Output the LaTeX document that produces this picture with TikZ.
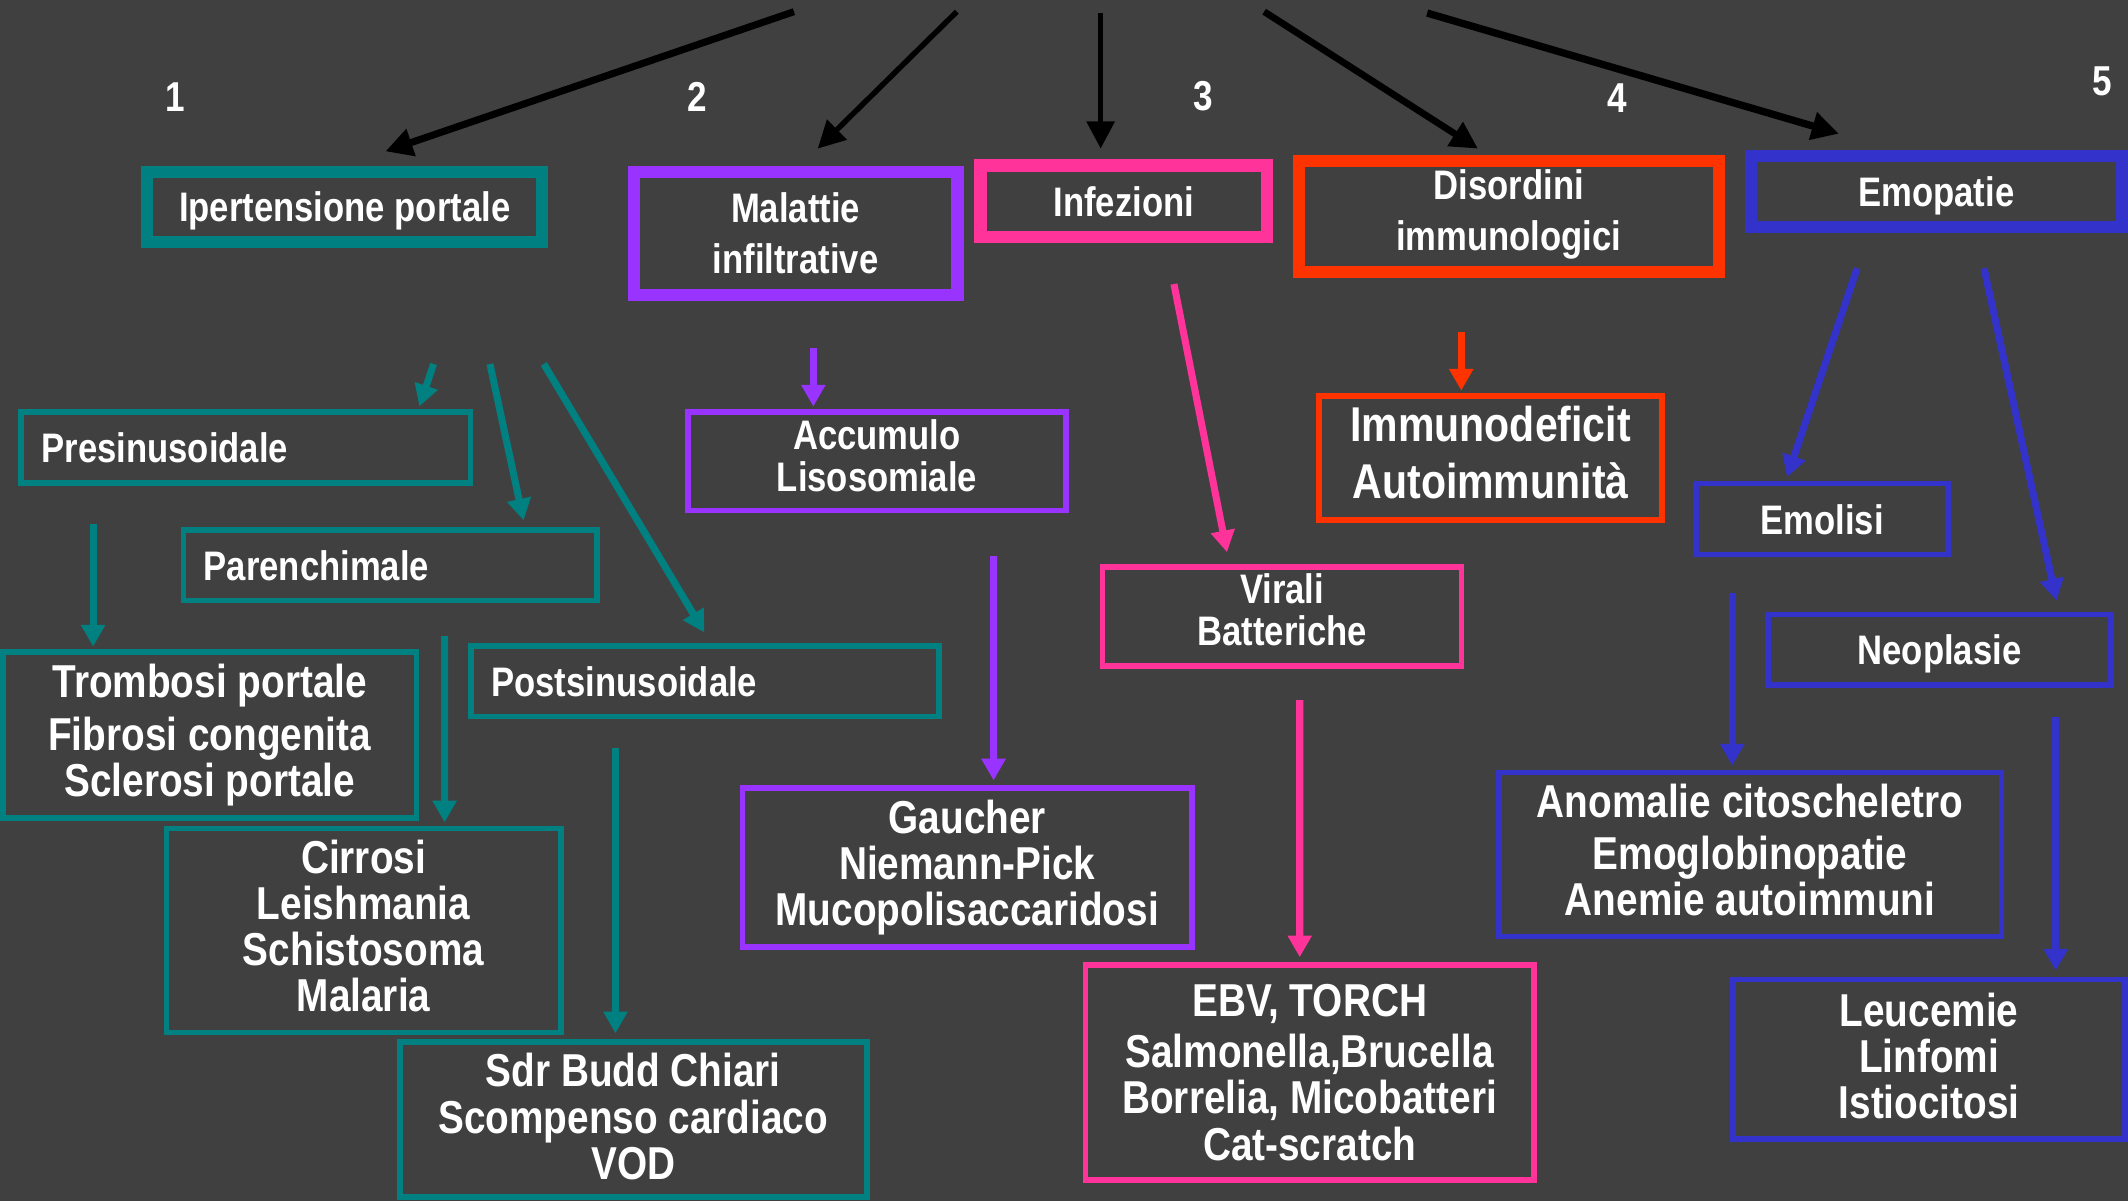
\documentclass[tikz,border=0pt]{standalone}
\usepackage{fontspec}
\setmainfont{Liberation Sans}[FakeStretch=0.84]
\usetikzlibrary{arrows.meta}
\definecolor{bgc}{RGB}{64,64,64}
\definecolor{cteal}{RGB}{0,128,128}
\definecolor{cpurp}{RGB}{153,51,255}
\definecolor{cpink}{RGB}{255,51,153}
\definecolor{cred}{RGB}{255,51,0}
\definecolor{cblue}{RGB}{51,51,204}
\newcommand{\lowstrut}[1]{\rule[-#1]{0pt}{#1}}
\begin{document}
\begin{tikzpicture}[x=0.5pt,y=-0.5pt,
  box/.style={draw, rectangle, inner sep=0pt, text=white, align=center,
    font={\bfseries\fontsize{17}{17}\selectfont}},
  topbox/.style={box, line width=4.5pt, font={\bfseries\fontsize{15.2}{18.6}\selectfont}},
  thinbox/.style={box, line width=2.1pt},
  smallbox/.style={thinbox, font={\bfseries\fontsize{15.2}{15.4}\selectfont}},
  leftbox/.style={smallbox, align=left, inner xsep=7.5pt},
  oneline/.style={text depth=0pt},
  num/.style={text=white, inner sep=0pt, font={\bfseries\fontsize{15.4}{15.4}\selectfont}},
  arr/.style={line width=2.6pt, -{Triangle[length=8pt,width=8.5pt]}},
  blk/.style={draw=black, line width=#1, -{Triangle[length=10pt,width=10pt]}}
]
\useasboundingbox (0,0) rectangle (1568,885);
\fill[bgc] (0,0) rectangle (1568,885);

% numbers
\node[num] (n1) at (129,71.2) {1};
\node[num] (n2) at (514,71.2) {2};
\node[num] (n3) at (886.5,71) {3};
\node[num] (n4) at (1191.5,72) {4};
\node[num] (n5) at (1549,60) {5};

% top boxes
\node[topbox, oneline, draw=cteal, minimum width=145.5pt, minimum height=26pt] (ip) at (254,152.5) {Ipertensione portale};
\node[topbox, draw=cpurp, minimum width=119.25pt, minimum height=45.3pt] (ma) at (586.25,171.8) {Malattie\\infiltrative};
\node[topbox, oneline, draw=cpink, minimum width=105.5pt, minimum height=26.25pt] (inf) at (828,148.25) {Infezioni};
\node[topbox, draw=cred, minimum width=154.7pt, minimum height=41pt] (dis) at (1111.7,159.5) {Disordini\\immunologici\lowstrut{4.7pt}};
\node[topbox, oneline, draw=cblue, minimum width=136.75pt, minimum height=26pt] (emo) at (1426.75,141) {Emopatie};

% teal
\node[leftbox, oneline, draw=cteal, text width=150.5pt, minimum height=26.1pt] (pre) at (181.1,329.8) {Presinusoidale};
\node[leftbox, oneline, draw=cteal, text width=137.4pt, minimum height=25.9pt] (par) at (287.5,416.6) {Parenchimale};
\node[leftbox, oneline, draw=cteal, text width=157.4pt, minimum height=25.9pt] (post) at (519.5,502) {Postsinusoidale};
\node[thinbox, draw=cteal, minimum width=152.4pt, minimum height=61.05pt] (tro) at (154.5,541.6) {Trombosi portale\\[2.4pt]Fibrosi congenita\\Sclerosi portale};
\node[thinbox, draw=cteal, minimum width=145.25pt, minimum height=75.15pt] (cir) at (267.9,685.7) {Cirrosi\\Leishmania\\Schistosoma\\Malaria\lowstrut{3.7pt}};
\node[thinbox, draw=cteal, minimum width=172.1pt, minimum height=57.1pt] (sdr) at (466.6,825.1) {Sdr Budd Chiari\\Scompenso cardiaco\\VOD\lowstrut{2.5pt}};

% purple
\node[smallbox, draw=cpurp, minimum width=139.05pt, minimum height=36.25pt] (acc) at (646.2,340) {Accumulo\\Lisosomiale\lowstrut{4.5pt}};
\node[thinbox, draw=cpurp, minimum width=165.65pt, minimum height=58.65pt] (gau) at (712.7,639.3) {Gaucher\\Niemann-Pick\\Mucopolisaccaridosi};

% pink
\node[smallbox, draw=cpink, minimum width=132.25pt, minimum height=36.35pt] (vir) at (944.7,454.35) {Virali\\Batteriche\lowstrut{5pt}};
\node[thinbox, draw=cpink, minimum width=165.25pt, minimum height=79.3pt] (ebv) at (965,790.1) {EBV, TORCH\\[2pt]Salmonella,Brucella\\Borrelia, Micobatteri\\Cat-scratch};

% red
\node[thinbox, draw=cred, minimum width=126.2pt, minimum height=45.45pt, font={\bfseries\fontsize{18}{20.85}\selectfont}] (imm) at (1098.3,337.45) {Immunodeficit\\Autoimmunità\lowstrut{4pt}};

% blue
\node[smallbox, oneline, draw=cblue, minimum width=92.8pt, minimum height=26.15pt] (emol) at (1342.7,382.45) {Emolisi};
\node[smallbox, oneline, draw=cblue, minimum width=126.3pt, minimum height=25.9pt] (neo) at (1429.1,478.7) {Neoplasie};
\node[thinbox, draw=cblue, minimum width=185.2pt, minimum height=60.5pt] (ano) at (1289.5,629.6) {Anomalie citoscheletro\\[2pt]Emoglobinopatie\\Anemie autoimmuni\lowstrut{3.4pt}};
\node[thinbox, draw=cblue, minimum width=144.45pt, minimum height=58.7pt] (leu) at (1421.45,780.5) {Leucemie\\Linfomi\\Istiocitosi\lowstrut{2.7pt}};

% start coordinates
\coordinate (b1) at (585,8.6);
\coordinate (b2) at (705,8.6);
\coordinate (b3) at (811,9.3);
\coordinate (b4) at (931.5,8.6);
\coordinate (b5) at (1051.6,9.6);
\coordinate (t1) at (319.5,268.2);
\coordinate (t2) at (361,268.2);
\coordinate (t3) at (400.7,268.2);
\coordinate (t4) at (68.6,386.4);
\coordinate (t5) at (327.6,468.7);
\coordinate (t6) at (453.5,551.4);
\coordinate (p1) at (599.3,256.7);
\coordinate (p2) at (732.1,409.7);
\coordinate (k1) at (865,209.3);
\coordinate (k2) at (957.7,515.8);
\coordinate (r1) at (1076.7,244.4);
\coordinate (u1) at (1368.4,197.7);
\coordinate (u2) at (1461.9,197.7);
\coordinate (u3) at (1276.4,437.2);
\coordinate (u4) at (1514.8,528.1);

% black arrows
\draw[blk=2.6pt] (b1) -- ([shift={(30,-10.5)}]ip.north);
\draw[blk=2pt] (b2) -- ([shift={(16.25,-12.5)}]ma.north);
\draw[blk=2pt] (b3) -- ([shift={(-17,-8)}]inf.north);
\draw[blk=2.5pt] (b4) -- ([shift={(-22.7,-4.5)}]dis.north);
\draw[blk=2.7pt] (b5) -- ([shift={(-71.75,-12)}]emo.north);

% teal arrows
\draw[arr, cteal] (t1) -- ([shift={(127.9,-2.1)}]pre.north);
\draw[arr, cteal] (t2) -- ([shift={(98.3,-5.1)}]par.north);
\draw[arr, cteal] (t3) -- ([shift={(-0.5,-8)}]post.north);
\draw[arr, cteal] (t4) -- ([shift={(-85.9,-2)}]tro.north);
\draw[arr, cteal] (t5) -- ([shift={(59.7,-2.5)}]cir.north);
\draw[arr, cteal] (t6) -- ([shift={(-13.1,-4.5)}]sdr.north);

% purple arrows
\draw[arr, cpurp] (p1) -- ([shift={(-46.9,-2.1)}]acc.north);
\draw[arr, cpurp] (p2) -- ([shift={(19.4,-3.5)}]gau.north);

% pink arrows
\draw[arr, cpink] (k1) -- ([shift={(-40.6,-9)}]vir.north);
\draw[arr, cpink] (k2) -- ([shift={(-7.3,-3.4)}]ebv.north);

% red arrow
\draw[arr, cred] (r1) -- ([shift={(-21.6,-2.1)}]imm.north);

% blue arrows
\draw[arr, cblue] (u1) -- ([shift={(-25.9,-2.6)}]emol.north);
\draw[arr, cblue] (u2) -- ([shift={(86.2,-8.2)}]neo.north);
\draw[arr, cblue] (u3) -- ([shift={(-13.1,-2.9)}]ano.north);
\draw[arr, cblue] (u4) -- ([shift={(93.35,-4.5)}]leu.north);
\end{tikzpicture}
\end{document}
